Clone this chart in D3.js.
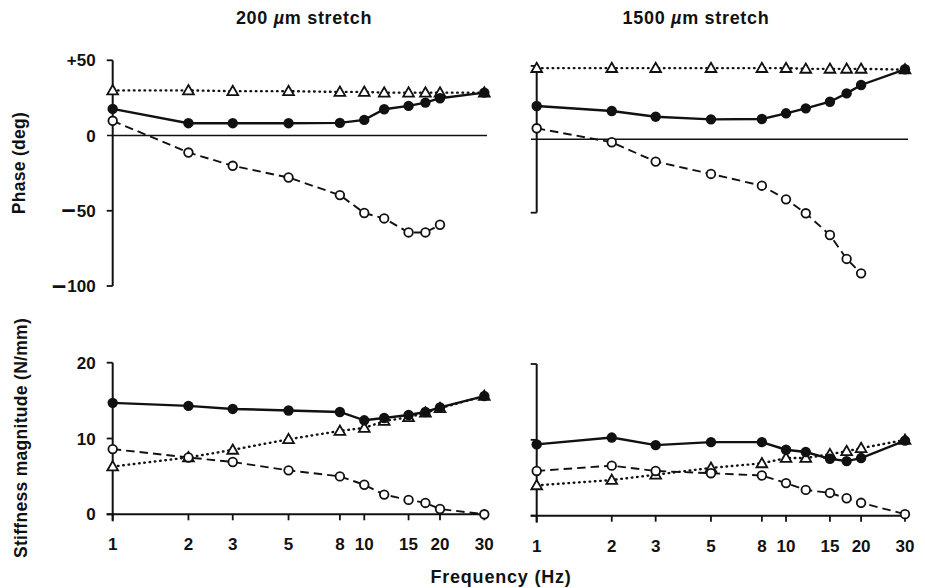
<!DOCTYPE html>
<html>
<head>
<meta charset="utf-8">
<script src="https://cdn.jsdelivr.net/npm/d3@7"></script>
<style>
  html, body { margin: 0; padding: 0; background: #fff; }
  svg text { font-family: "Liberation Sans", Arial, Helvetica, sans-serif; font-weight: bold; fill: #111; }
</style>
</head>
<body>
<svg id="chart" width="925" height="588"></svg>
<script>
// Stimulus frequencies (Hz) and labelled ticks on the log axis
const freqs = [1, 2, 3, 5, 8, 10, 12, 15, 17.5, 20, 30];
const freqTicks = [1, 2, 3, 5, 8, 10, 15, 20, 30];
const phaseTicks = [50, 0, -50, -100];
const phaseTickLabels = ["+50", "0", "\u221250", "\u2212100"];
const stiffTicks = [20, 10, 0];
const stiffTickLabels = ["20", "10", "0"];

// Phase (deg), 200 um stretch
const phase200Total = [17.7, 8.2, 8.2, 8.2, 8.4, 10.4, 17.5, 19.7, 21.9, 24.8, 28.5];
const phase200Elastic = [9.8, -11.3, -20.1, -27.9, -39.6, -51.5, -55.1, -64.4, -64.4, -59.3, null];
const phase200Viscous = [30, 30, 29.5, 29.5, 29, 29, 28.5, 28.5, 28.5, 28.5, 28.5];

// Phase (deg), 1500 um stretch
const phase1500Total = [22.7, 19.3, 15.4, 13.6, 13.8, 17.7, 21.1, 25.6, 31.3, 37, 47.7];
const phase1500Elastic = [7.5, -2.0, -15.2, -23.6, -31.6, -40.9, -50.4, -65.2, -81.5, -91.3, null];
const phase1500Viscous = [48.5, 48.5, 48.5, 48.5, 48.5, 48.5, 48, 48, 48, 48, 47.5];

// Stiffness magnitude (N/mm), 200 um stretch
const stiff200Total = [14.7, 14.3, 13.9, 13.7, 13.5, 12.4, 12.7, 13.1, 13.5, 14.1, 15.6];
const stiff200Elastic = [8.6, 7.5, 6.9, 5.8, 5.0, 3.9, 2.6, 1.9, 1.5, 0.7, 0.0];
const stiff200Viscous = [6.3, 7.5, 8.5, 9.9, 11.0, 11.4, 12.3, 12.8, 13.4, 14.0, 15.6];

// Stiffness magnitude (N/mm), 1500 um stretch
const stiff1500Total = [9.4, 10.3, 9.3, 9.7, 9.7, 8.7, 8.4, 7.5, 7.2, 7.6, 9.9];
const stiff1500Elastic = [5.9, 6.6, 5.9, 5.6, 5.3, 4.3, 3.4, 3.0, 2.3, 1.7, 0.2];
const stiff1500Viscous = [4.0, 4.7, 5.4, 6.3, 6.9, 7.6, 7.6, 8.1, 8.5, 8.9, 10.0];

const svg = d3.select("#chart");
const ink = "#111";

// Panel layout: x range covers 1..30 Hz, y range maps the value domain
const panels = [
  { x: [112.7, 484.3], yDom: [-100, 50], yRng: [286, 60.3], axisDom: [-100, 50], kind: "phase", labels: true,
    series: [phase200Viscous, phase200Elastic, phase200Total], zeroLine: [107, 487] },
  { x: [536.7, 905], yDom: [-50, 50], yRng: [212.7, 65.9], axisDom: [-50, 51.5], kind: "phase", labels: false,
    series: [phase1500Viscous, phase1500Elastic, phase1500Total], zeroLine: [531, 908] },
  { x: [112.7, 484.3], yDom: [0, 20], yRng: [514.3, 362.7], axisDom: [0, 20], kind: "stiff", labels: true,
    series: [stiff200Viscous, stiff200Elastic, stiff200Total] },
  { x: [536.7, 905], yDom: [0, 20], yRng: [515.7, 364], axisDom: [0, 20], kind: "stiff", labels: false,
    series: [stiff1500Viscous, stiff1500Elastic, stiff1500Total] }
];

const styles = [
  { dash: "0.6,4.7", width: 2.4, cap: "round", marker: "tri" },      // viscous: dotted, open triangles
  { dash: "8.5,5", width: 1.9, cap: "butt", marker: "open" },        // elastic: dashed, open circles
  { dash: null, width: 2.4, cap: "butt", marker: "filled" }          // total: solid, filled circles
];

// Tick label with a long minus sign for negative values
function tickLabel(g, xPos, yPos, label) {
  const t = g.append("text").attr("x", xPos).attr("y", yPos + 6.1)
    .attr("text-anchor", "end").attr("font-size", 17);
  if (label[0] === "\u2212") {
    t.append("tspan").attr("font-size", 25).attr("dy", 2.6).text("\u2212");
    t.append("tspan").attr("dy", -2.6).attr("dx", 1).text(label.slice(1));
  } else {
    t.text(label);
  }
}

panels.forEach(p => {
  const x = d3.scaleLog().domain([1, 30]).range(p.x);
  const y = d3.scaleLinear().domain(p.yDom).range(p.yRng);
  const g = svg.append("g");

  // Vertical axis line
  const yTop = y(p.axisDom[1]);
  const yBot = p.kind === "stiff" ? y(0) + 7 : y(p.axisDom[0]);
  g.append("line").attr("x1", p.x[0]).attr("x2", p.x[0]).attr("y1", yTop).attr("y2", yBot)
    .attr("stroke", ink).attr("stroke-width", 2);

  // Left ticks
  const ticks = p.kind === "phase" ? phaseTicks : stiffTicks;
  const tickLabels = p.kind === "phase" ? phaseTickLabels : stiffTickLabels;
  ticks.forEach((t, i) => {
    if (t < p.axisDom[0] || t > p.axisDom[1] + 2) return;
    const ty = y(t);
    if (!(p.kind === "phase" && t === 0)) {
      g.append("line").attr("x1", p.x[0] - 6).attr("x2", p.x[0]).attr("y1", ty).attr("y2", ty)
        .attr("stroke", ink).attr("stroke-width", 1.8);
    }
    if (p.labels) tickLabel(g, p.x[0] - 17, ty, tickLabels[i]);
  });

  if (p.kind === "phase") {
    // Zero phase reference line
    g.append("line").attr("x1", p.zeroLine[0]).attr("x2", p.zeroLine[1])
      .attr("y1", y(0)).attr("y2", y(0)).attr("stroke", ink).attr("stroke-width", 1.6);
  } else {
    // Frequency axis along the bottom with downward ticks
    const base = y(0);
    g.append("line").attr("x1", p.x[0] - 6).attr("x2", x(30) + 2).attr("y1", base).attr("y2", base)
      .attr("stroke", ink).attr("stroke-width", 2);
    freqTicks.forEach(f => {
      g.append("line").attr("x1", x(f)).attr("x2", x(f)).attr("y1", base).attr("y2", base + 6)
        .attr("stroke", ink).attr("stroke-width", 1.8);
      g.append("text").attr("x", x(f)).attr("y", base + 36).attr("text-anchor", "middle")
        .attr("font-size", 17).text(f);
    });
  }

  // Series lines
  p.series.forEach((vals, si) => {
    const st = styles[si];
    const pts = freqs.map((f, i) => [f, vals[i]]).filter(d => d[1] !== null);
    const line = d3.line().x(d => x(d[0])).y(d => y(d[1]));
    g.append("path").attr("d", line(pts)).attr("fill", "none").attr("stroke", ink)
      .attr("stroke-width", st.width).attr("stroke-dasharray", st.dash).attr("stroke-linecap", st.cap);
  });

  // Markers
  p.series.forEach((vals, si) => {
    const st = styles[si];
    const pts = freqs.map((f, i) => [f, vals[i]]).filter(d => d[1] !== null);
    if (st.marker === "tri") {
      const tri = d3.symbol().type(d3.symbolTriangle).size(50);
      g.selectAll(null).data(pts).enter().append("path")
        .attr("d", tri).attr("transform", d => `translate(${x(d[0])},${y(d[1]) + 0.8})`)
        .attr("fill", "#fff").attr("stroke", ink).attr("stroke-width", 1.8);
    } else if (st.marker === "open") {
      g.selectAll(null).data(pts).enter().append("circle")
        .attr("cx", d => x(d[0])).attr("cy", d => y(d[1])).attr("r", 4.3)
        .attr("fill", "#fff").attr("stroke", ink).attr("stroke-width", 1.8);
    } else {
      g.selectAll(null).data(pts).enter().append("circle")
        .attr("cx", d => x(d[0])).attr("cy", d => y(d[1])).attr("r", 5.2)
        .attr("fill", ink);
    }
  });
});

// Column titles
function title(cx, num) {
  const t = svg.append("text").attr("x", cx).attr("y", 24).attr("text-anchor", "middle")
    .attr("font-size", 18).attr("letter-spacing", 0.7);
  t.append("tspan").text(num + " ");
  t.append("tspan").attr("font-style", "italic").text("\u00b5");
  t.append("tspan").text("m stretch");
}
title(304, "200");
title(696, "1500");

// Axis titles
svg.append("text").attr("transform", "translate(25,163) rotate(-90)").attr("text-anchor", "middle")
  .attr("font-size", 17.5).attr("letter-spacing", 0.3).text("Phase (deg)");
svg.append("text").attr("transform", "translate(27,438) rotate(-90)").attr("text-anchor", "middle")
  .attr("font-size", 17.5).attr("letter-spacing", 0.3).text("Stiffness magnitude (N/mm)");
svg.append("text").attr("x", 501).attr("y", 583).attr("text-anchor", "middle")
  .attr("font-size", 18).attr("letter-spacing", 0.8).text("Frequency (Hz)");
</script>
</body>
</html>
